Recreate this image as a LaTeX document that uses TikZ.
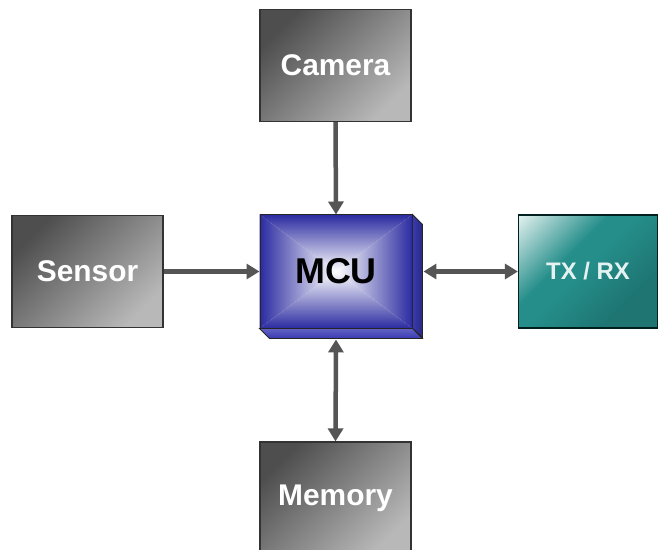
\documentclass[tikz,border=0pt]{standalone}
\usepackage{fontspec}
\setmainfont{Liberation Sans}
\usetikzlibrary{arrows.meta, backgrounds}

\definecolor{boxdark}{HTML}{4E4E4E}
\definecolor{boxlight}{HTML}{B8B8B8}
\definecolor{mcublue}{HTML}{2A2AA0}
\definecolor{mcucore}{HTML}{FFFFFF}
\definecolor{mcuside}{HTML}{3A3AB4}
\definecolor{tealmain}{HTML}{258E8A}
\definecolor{tealdark}{HTML}{1E7572}
\definecolor{teallight}{HTML}{E8F4F2}
\definecolor{linkgray}{HTML}{555555}

\pgfdeclareverticalshading{tealshade}{100bp}{color(0bp)=(tealdark); color(30bp)=(tealdark);
  color(52bp)=(tealmain); color(60bp)=(tealmain); color(86bp)=(teallight); color(100bp)=(teallight)}

\tikzset{
  graybox/.style={draw=black!80, line width=1.2bp,
    top color=boxdark, bottom color=boxlight, shading angle=45, text=white,
    font=\bfseries\fontsize{30}{30}\selectfont,
    minimum width=151bp, minimum height=112bp, inner sep=0pt},
  mcubox/.style={draw=black!85, line width=1bp, font=\bfseries\fontsize{36}{36}\selectfont,
    minimum width=152bp, minimum height=113bp, inner sep=0pt},
  radiobox/.style={draw=black!75!teal, line width=1.2bp, shading=tealshade, shading angle=45,
    text=white!90!teal, font=\bfseries\fontsize{24}{24}\selectfont,
    minimum width=139bp, minimum height=113bp, inner sep=0pt},
  link/.style={draw=linkgray, line width=4.5bp,
    arrows={-Triangle[length=13bp, width=15bp]}},
  duplex/.style={link, arrows={Triangle[length=13bp, width=15bp]-Triangle[length=13bp, width=15bp]}}
}

\begin{document}
\begin{tikzpicture}[x=1bp, y=-1bp]
  \useasboundingbox (0,0) rectangle (658,550);

  % Bloecke
  \node[graybox] (camera) at (335.5,65.5) {Camera};
  \node[graybox] (sensor) at (87.5,271.5) {Sensor};
  \node[mcubox] (mcu) at (336,271.5) {MCU};
  \node[radiobox] (txrx) at (588,271.5) {TX / RX};
  \node[graybox] (memory) at (335.5,498) {Memory};

  % Facetten des MCU-Blocks
  \begin{scope}[on background layer]
    \shade[top color=mcublue, bottom color=mcucore]
      (mcu.north west) -- (mcu.north east) -- (mcu.center) -- cycle;
    \shade[bottom color=mcublue, top color=mcucore]
      (mcu.south west) -- (mcu.south east) -- (mcu.center) -- cycle;
    \shade[left color=mcublue, right color=mcucore]
      (mcu.north west) -- (mcu.south west) -- (mcu.center) -- cycle;
    \shade[right color=mcublue, left color=mcucore]
      (mcu.north east) -- (mcu.south east) -- (mcu.center) -- cycle;
  \end{scope}

  % Tiefe des MCU-Blocks
  \filldraw[draw=black!85, line width=0.8bp, left color=mcuside, right color=mcuside!70!black]
    (mcu.north east) -- ++(10,10) -- ++(0,113) -- (mcu.south east) -- cycle;
  \filldraw[draw=black!85, line width=0.8bp, top color=mcuside!80!white, bottom color=mcuside]
    (mcu.south west) -- (mcu.south east) -- ++(10,10) -- ([shift={(10,10)}]mcu.south west) -- cycle;

  % Verbindungen
  \draw[link] (camera.south) -- (mcu.north);
  \draw[link] (sensor.east) -- (mcu.west);
  \draw[duplex] ([xshift=11]mcu.east) -- (txrx.west);
  \draw[duplex] ([yshift=-11]mcu.south) -- (memory.north);
\end{tikzpicture}
\end{document}
